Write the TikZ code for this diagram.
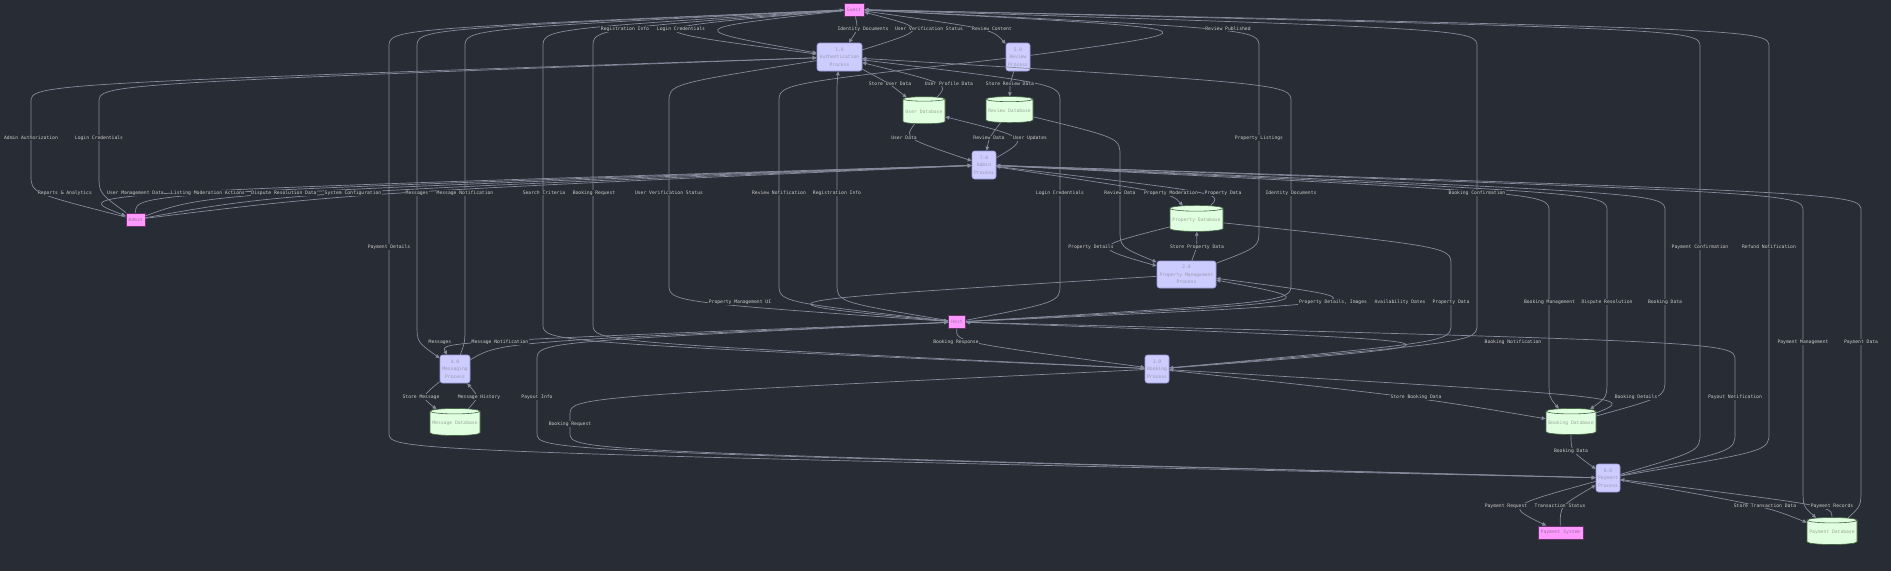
\documentclass[tikz,border=0pt]{standalone}
\usepackage{fontspec}
\setmonofont{DejaVu Sans Mono}
\usetikzlibrary{shapes.geometric,arrows.meta,calc}
\definecolor{bg}{HTML}{282C34}
\definecolor{linecol}{HTML}{858B9C}
\definecolor{lblcol}{HTML}{CCCCCC}
\definecolor{procfill}{HTML}{CCCCFF}
\definecolor{procdraw}{HTML}{9999DD}
\definecolor{proctext}{HTML}{9A9AB0}
\definecolor{extfill}{HTML}{FF99FF}
\definecolor{extdraw}{HTML}{663366}
\definecolor{exttext}{HTML}{A070A0}
\definecolor{dbfill}{HTML}{E0FFE0}
\definecolor{dbdraw}{HTML}{446644}
\definecolor{dbtext}{HTML}{99A899}
\newcommand\elong[5]{\draw[e] (#1) .. controls (#3,#4) .. ($(#3,#4)!18pt!(#3,#5)$) -- ($(#3,#5)!18pt!(#3,#4)$) .. controls (#3,#5) .. (#2);}
\newcommand\eshort[4]{\draw[e] (#1) .. controls (#3,#4) and (#3,#4) .. (#2);}
\newcommand\lab[2]{\node[lbl] at (#1) {#2};}
\begin{document}
\begin{tikzpicture}[x=1pt,y=-1pt,
  font=\ttfamily\fontsize{4.7}{7.4}\selectfont,
  ext/.style={rectangle, draw=extdraw, fill=extfill, line width=0.8pt, text=exttext, inner sep=0pt, minimum height=13pt},
  proc/.style={rectangle, rounded corners=2.5pt, draw=procdraw, fill=procfill, line width=0.6pt, text=proctext, align=center, inner sep=0pt, minimum height=28pt},
  db/.style={cylinder, shape border rotate=90, aspect=0.12, draw=dbdraw, fill=dbfill, line width=0.6pt, text=dbtext, inner sep=0pt},
  lbl/.style={fill=bg, text=lblcol, inner sep=0.6pt},
  e/.style={draw=linecol, line width=0.7pt, -{Triangle[length=4pt,width=3.6pt]}}]
\fill[bg] (0,0) rectangle (1891,571);
\useasboundingbox (0,0) rectangle (1891,571);
% nodes
\node[ext, minimum width=20pt] (guest) at (854,9.5) {Guest};
\node[ext, minimum width=17pt] (host) at (957,322) {Host};
\node[ext, minimum width=19pt] (admin) at (135.5,219.5) {Admin};
\node[ext, minimum width=45pt] (paysys) at (1560.5,532.5) {Payment System};
\node[proc, minimum width=45pt] (auth) at (839.5,57) {1.0\\Authentication\\Process};
\node[proc, minimum width=24pt] (review) at (1018,57) {5.0\\Review\\Process};
\node[proc, minimum width=24pt] (adminp) at (984,165) {7.0\\Admin\\Process};
\node[proc, minimum width=59pt, minimum height=27pt] (prop) at (1186.5,274.5) {2.0\\Property Management\\Process};
\node[proc, minimum width=24pt] (booking) at (1157,369) {3.0\\Booking\\Process};
\node[proc, minimum width=30pt] (msg) at (455,369) {4.0\\Messaging\\Process};
\node[proc, minimum width=24pt] (payment) at (1608,478) {6.0\\Payment\\Process};
\node[db, minimum width=42pt, minimum height=27pt] (userdb) at (924,111.5) {User Database};
\node[db, minimum width=47pt, minimum height=26pt] (reviewdb) at (1009.5,111) {Review Database};
\node[db, minimum width=53pt, minimum height=26pt] (propdb) at (1196.5,220) {Property Database};
\node[db, minimum width=50pt, minimum height=27pt] (msgdb) at (455,423.5) {Message Database};
\node[db, minimum width=50pt, minimum height=26pt] (bookdb) at (1571,423) {Booking Database};
\node[db, minimum width=50pt, minimum height=27pt] (paydb) at (1832,532.5) {Payment Database};
% edges: guest
\eshort{guest}{auth}{625}{29}
\eshort{guest}{auth}{681}{29}
\eshort{guest}{auth}{858}{29}
\eshort{auth}{guest}{929}{29}
\eshort{guest}{review}{992}{29}
\eshort{review}{guest}{1228}{29}
\elong{guest}{booking}{543}{29}{342}
\elong{guest}{booking}{593}{29}{342}
\elong{booking}{guest}{1477}{342}{29}
\elong{guest}{msg}{417}{29}{342}
\elong{msg}{guest}{465}{342}{29}
\elong{guest}{payment}{389}{29}{451}
\elong{payment}{guest}{1700}{451}{29}
\elong{payment}{guest}{1769}{451}{29}
% host
\elong{host}{auth}{837}{302}{84}
\elong{host}{auth}{1060}{302}{84}
\elong{host}{auth}{1291}{302}{84}
\elong{auth}{host}{669}{84}{302}
\eshort{host}{prop}{1333}{302}
\eshort{host}{prop}{1400}{302}
\eshort{prop}{host}{740}{302}
\eshort{host}{booking}{956}{342}
\eshort{booking}{host}{1513}{342}
\eshort{host}{msg}{440}{342}
\eshort{msg}{host}{500}{342}
\elong{host}{payment}{537}{342}{451}
\elong{payment}{host}{1735}{451}{342}
\elong{review}{host}{779}{84}{302}
% admin
\elong{admin}{auth}{31}{193}{84}
\elong{admin}{auth}{99}{193}{84}
\eshort{adminp}{admin}{65}{193}
\eshort{admin}{adminp}{135.5}{193}
\eshort{admin}{adminp}{208}{193}
\eshort{admin}{adminp}{284}{193}
\eshort{admin}{adminp}{353}{193}
% admin process
\eshort{userdb}{adminp}{904}{138}
\eshort{reviewdb}{adminp}{989}{138}
\eshort{adminp}{userdb}{1030}{138}
\eshort{adminp}{propdb}{1171}{193}
\eshort{propdb}{adminp}{1223}{193}
\elong{adminp}{bookdb}{1549}{193}{397}
\elong{adminp}{bookdb}{1607}{193}{397}
\elong{bookdb}{adminp}{1665}{397}{193}
\elong{adminp}{paydb}{1803}{193}{506}
\elong{paydb}{adminp}{1861}{506}{193}
% stores
\eshort{auth}{userdb}{890}{84}
\eshort{userdb}{auth}{949}{84}
\eshort{review}{reviewdb}{1010}{84}
\elong{reviewdb}{prop}{1120}{138}{247}
\eshort{prop}{propdb}{1197}{247}
\eshort{propdb}{prop}{1091}{247}
\elong{prop}{guest}{1259}{247}{29}
\elong{propdb}{booking}{1451}{247}{342}
\eshort{msg}{msgdb}{421}{397}
\eshort{msgdb}{msg}{479}{397}
\eshort{booking}{bookdb}{1416}{397}
\eshort{bookdb}{booking}{1636}{397}
\elong{booking}{payment}{570}{397}{451}
\eshort{bookdb}{payment}{1571}{451}
\eshort{payment}{paysys}{1506}{506}
\eshort{paysys}{payment}{1560}{506}
\eshort{payment}{paydb}{1765}{506}
\eshort{paydb}{payment}{1832}{506}
% labels
\lab{625,29}{Registration Info}
\lab{681,29}{Login Credentials}
\lab{863,29}{Identity Documents}
\lab{929,29}{User Verification Status}
\lab{992,29}{Review Content}
\lab{1228,29}{Review Published}
\lab{890,84}{Store User Data}
\lab{949,84}{User Profile Data}
\lab{1010,84}{Store Review Data}
\lab{31,138}{Admin Authorization}
\lab{99,138}{Login Credentials}
\lab{904,138}{User Data}
\lab{989,138}{Review Data}
\lab{1030,138}{User Updates}
\lab{1259,138}{Property Listings}
\lab{65,193}{Reports \& Analytics}
\lab{135.5,193}{User Management Data}
\lab{208,193}{Listing Moderation Actions}
\lab{284,193}{Dispute Resolution Data}
\lab{353,193}{System Configuration}
\lab{417,193}{Messages}
\lab{465,193}{Message Notification}
\lab{544,193}{Search Criteria}
\lab{594,193}{Booking Request}
\lab{669,193}{User Verification Status}
\lab{779,193}{Review Notification}
\lab{837,193}{Registration Info}
\lab{1060,193}{Login Credentials}
\lab{1120,193}{Review Data}
\lab{1171,193}{Property Moderation}
\lab{1223,193}{Property Data}
\lab{1291,193}{Identity Documents}
\lab{1477,193}{Booking Confirmation}
\lab{389,247}{Payment Details}
\lab{1091,247}{Property Details}
\lab{1197,247}{Store Property Data}
\lab{1700,247}{Payment Confirmation}
\lab{1769,247}{Refund Notification}
\lab{740,302}{Property Management UI}
\lab{1333,302}{Property Details, Images}
\lab{1400,302}{Availability Dates}
\lab{1451,302}{Property Data}
\lab{1549.5,302}{Booking Management}
\lab{1607,302}{Dispute Resolution}
\lab{1665,302}{Booking Data}
\lab{440,342}{Messages}
\lab{500,342}{Message Notification}
\lab{956,342}{Booking Response}
\lab{1513,342}{Booking Notification}
\lab{1803,342}{Payment Management}
\lab{1861,342}{Payment Data}
\lab{421,397}{Store Message}
\lab{479,397}{Message History}
\lab{537,397}{Payout Info}
\lab{1416,397}{Store Booking Data}
\lab{1636,397}{Booking Details}
\lab{1735,397}{Payout Notification}
\lab{570,424}{Booking Request}
\lab{1571,451}{Booking Data}
\lab{1506,506}{Payment Request}
\lab{1560,506}{Transaction Status}
\lab{1765,506}{Store Transaction Data}
\lab{1832,506}{Payment Records}
\end{tikzpicture}
\end{document}
